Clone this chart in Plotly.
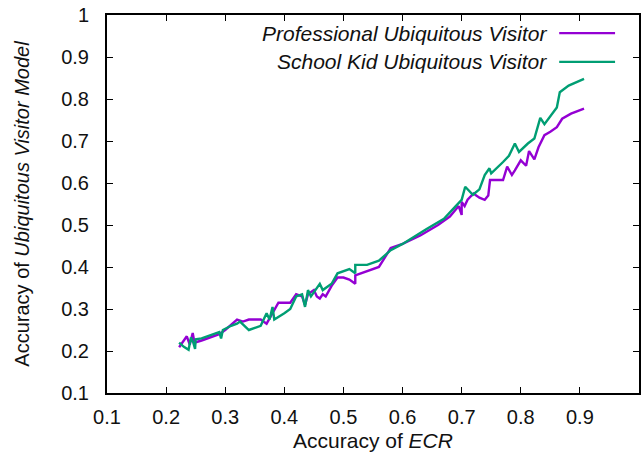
import plotly.graph_objects as go

pro_x = [0.222, 0.23, 0.235, 0.24, 0.245, 0.248, 0.26, 0.29, 0.295, 0.30, 0.32, 0.33, 0.34, 0.36, 0.37,
         0.38, 0.39, 0.40, 0.41, 0.42, 0.43, 0.435, 0.44, 0.45, 0.455, 0.46, 0.465, 0.47, 0.48, 0.49,
         0.50, 0.51, 0.52, 0.52, 0.54, 0.56, 0.58, 0.60, 0.63, 0.66, 0.68, 0.695, 0.70, 0.70, 0.705,
         0.71, 0.72, 0.73, 0.739, 0.745, 0.748, 0.76, 0.77, 0.777, 0.785, 0.79, 0.80, 0.809, 0.814,
         0.823, 0.83, 0.84, 0.85, 0.861, 0.87, 0.885, 0.907]
pro_y = [0.209, 0.225, 0.235, 0.215, 0.243, 0.22, 0.225, 0.24, 0.245, 0.25, 0.275, 0.27, 0.275, 0.275, 0.265,
         0.29, 0.315, 0.315, 0.315, 0.335, 0.33, 0.31, 0.335, 0.345, 0.33, 0.325, 0.335, 0.33, 0.355, 0.375,
         0.375, 0.37, 0.36, 0.38, 0.39, 0.40, 0.445, 0.455, 0.475, 0.50, 0.52, 0.545, 0.524, 0.555, 0.545,
         0.56, 0.575, 0.565, 0.56, 0.57, 0.607, 0.607, 0.607, 0.639, 0.619, 0.63, 0.654, 0.641, 0.676,
         0.656, 0.685, 0.714, 0.722, 0.733, 0.753, 0.765, 0.777]

kid_x = [0.222, 0.23, 0.238, 0.242, 0.246, 0.249, 0.25, 0.26, 0.29, 0.293, 0.296, 0.31, 0.32, 0.325, 0.34,
         0.36, 0.37, 0.375, 0.38, 0.383, 0.40, 0.41, 0.42, 0.43, 0.435, 0.44, 0.445, 0.45, 0.46, 0.465,
         0.48, 0.49, 0.51, 0.52, 0.52, 0.54, 0.56, 0.58, 0.60, 0.64, 0.67, 0.69, 0.70, 0.706, 0.719,
         0.73, 0.739, 0.747, 0.75, 0.77, 0.78, 0.79, 0.797, 0.812, 0.823, 0.833, 0.84, 0.861, 0.866,
         0.881, 0.907]
kid_y = [0.22, 0.21, 0.203, 0.232, 0.22, 0.205, 0.228, 0.23, 0.245, 0.23, 0.25, 0.26, 0.265, 0.27, 0.25,
         0.26, 0.29, 0.275, 0.305, 0.275, 0.29, 0.30, 0.33, 0.335, 0.305, 0.345, 0.33, 0.34, 0.36, 0.345,
         0.36, 0.385, 0.395, 0.385, 0.405, 0.405, 0.415, 0.44, 0.455, 0.49, 0.515, 0.545, 0.56, 0.591, 0.572,
         0.585, 0.619, 0.635, 0.623, 0.65, 0.665, 0.694, 0.674, 0.694, 0.706, 0.755, 0.74, 0.78, 0.816,
         0.832, 0.848]

names = ["Professional Ubiquitous Visitor", "School Kid Ubiquitous Visitor"]
colors = ["#9400D3", "#009E73"]
ticks = [0.1, 0.2, 0.3, 0.4, 0.5, 0.6, 0.7, 0.8, 0.9, 1.0]
tick_text = ["0.1", "0.2", "0.3", "0.4", "0.5", "0.6", "0.7", "0.8", "0.9", "1"]

font = "Liberation Sans, Arial, sans-serif"
fig = go.Figure()
for xs, ys, n, c in [(pro_x, pro_y, names[0], colors[0]), (kid_x, kid_y, names[1], colors[1])]:
    fig.add_trace(go.Scatter(x=xs, y=ys, mode="lines", name=n, line=dict(color=c, width=2.4),
                             showlegend=False))

# legend (gnuplot style: text right-aligned, sample line on the right)
leg_y = [0.952, 0.876]
for i in range(2):
    fig.add_annotation(x=0.831, y=leg_y[i], xref="paper", yref="paper", xanchor="right", yanchor="middle",
                       text="<i>" + names[i] + "</i>", showarrow=False,
                       font=dict(family=font, size=21, color="#111"))
    fig.add_shape(type="line", xref="paper", yref="paper", x0=0.85, x1=0.955, y0=leg_y[i], y1=leg_y[i],
                  line=dict(color=colors[i], width=2.4))

axis_common = dict(range=[0.1, 1.0], tickvals=ticks, ticktext=tick_text, ticks="inside", ticklen=6,
                   tickwidth=1, tickcolor="black", showline=True, linecolor="black", linewidth=2,
                   mirror="allticks", showgrid=False, zeroline=False,
                   tickfont=dict(family=font, size=20, color="#111"))
fig.update_xaxes(**axis_common, ticklabelstandoff=5,
                 title=dict(text="Accuracy of <i>ECR</i>", font=dict(family=font, size=21, color="#111"),
                            standoff=6))
fig.update_yaxes(**axis_common, ticklabelstandoff=12,
                 title=dict(text="Accuracy of <i>Ubiquitous Visitor Model</i>",
                            font=dict(family=font, size=20, color="#111"), standoff=26))
fig.update_layout(width=643, height=458, margin=dict(l=107, r=2, t=15, b=65),
                  plot_bgcolor="white", paper_bgcolor="white")
fig.write_html("out.html")
